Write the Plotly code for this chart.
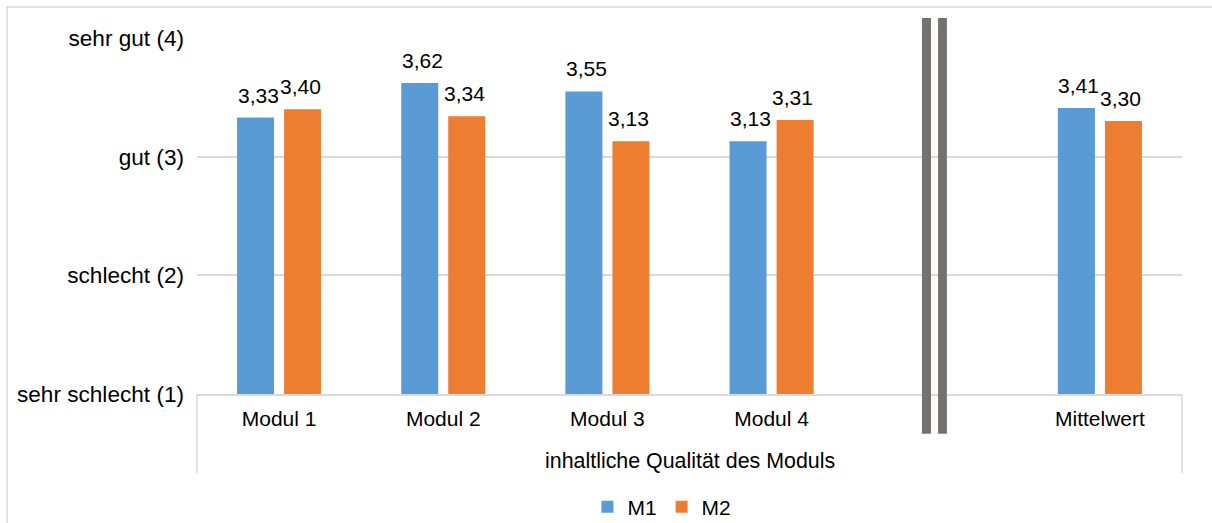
import plotly.graph_objects as go

# Ratings per module (1 = sehr schlecht ... 4 = sehr gut)
categories = ["Modul 1", "Modul 2", "Modul 3", "Modul 4", "", "Mittelwert"]
m1_values = [3.33, 3.62, 3.55, 3.13, None, 3.41]
m2_values = [3.40, 3.34, 3.13, 3.31, None, 3.30]
series_names = ["M1", "M2"]
y_tick_values = [1, 2, 3, 4]
y_tick_labels = ["sehr schlecht (1)", "schlecht (2)", "gut (3)", "sehr gut (4)"]
group_label = "inhaltliche Qualität des Moduls"

BLUE = "#5B9BD5"
ORANGE = "#ED7D31"
GRID = "#D9D9D9"
SEP = "#767171"
FONT = "Liberation Sans, Arial, sans-serif"
FS = 21

x_pos = list(range(len(categories)))

fig = go.Figure()
for name, vals, color in [(series_names[0], m1_values, BLUE), (series_names[1], m2_values, ORANGE)]:
    fig.add_trace(go.Bar(
        x=x_pos, y=vals, name=name, marker=dict(color=color, line=dict(width=0)),
        hoverinfo="skip",
    ))

# value labels above each bar
for shift, vals in [(-21, m1_values), (21, m2_values)]:
    for xi, v in zip(x_pos, vals):
        if v is None:
            continue
        fig.add_annotation(
            x=xi, y=v, xref="x", yref="y", text=f"{v:.2f}".replace(".", ","),
            showarrow=False, xshift=shift, yanchor="bottom", yshift=9,
            font=dict(family=FONT, size=21, color="#000000"),
        )

# second-level category label
fig.add_annotation(
    x=0.5, y=-0.188, xref="paper", yref="paper", text=group_label, showarrow=False,
    yanchor="middle", font=dict(family=FONT, size=21.4, color="#000000"),
)

shapes = [
    # outer chart border
    dict(type="rect", xref="paper", yref="paper", x0=-0.1929, x1=1.04, y0=-0.40, y1=1.087,
         line=dict(color=GRID, width=1.5), fillcolor="rgba(0,0,0,0)", layer="below"),
    # category axis end lines
    dict(type="line", xref="paper", yref="paper", x0=0, x1=0, y0=0, y1=-0.222,
         line=dict(color=GRID, width=1.5)),
    dict(type="line", xref="paper", yref="paper", x0=1, x1=1, y0=0, y1=-0.222,
         line=dict(color=GRID, width=1.5)),
    # axis break marker
    dict(type="rect", xref="x", yref="paper", x0=3.916, x1=3.971, y0=-0.112, y1=1.056,
         line=dict(width=0), fillcolor=SEP, layer="above"),
    dict(type="rect", xref="x", yref="paper", x0=4.014, x1=4.068, y0=-0.112, y1=1.056,
         line=dict(width=0), fillcolor=SEP, layer="above"),
]

fig.update_layout(
    width=1212, height=523,
    margin=dict(l=197, r=30, t=38, b=129, pad=0, autoexpand=False),
    paper_bgcolor="white", plot_bgcolor="white",
    barmode="group", bargap=0.427, bargroupgap=0.213,
    font=dict(family=FONT, size=FS, color="#000000"),
    showlegend=True,
    legend=dict(orientation="h", x=0.472, xanchor="center", yref="container", y=0.0306,
                yanchor="middle", font=dict(family=FONT, size=FS, color="#000000"),
                itemwidth=30, bgcolor="rgba(0,0,0,0)"),
    shapes=shapes,
    xaxis=dict(
        tickmode="array", tickvals=x_pos, ticktext=categories, range=[-0.5, len(categories) - 0.5],
        showgrid=False, zeroline=False, showline=True, linecolor=GRID, linewidth=1.5,
        ticks="", ticklabelstandoff=5, tickfont=dict(family=FONT, size=FS, color="#000000"),
        fixedrange=True, automargin=False,
    ),
    yaxis=dict(
        range=[1, 4], tickmode="array", tickvals=y_tick_values, ticktext=y_tick_labels,
        showgrid=True, gridcolor=GRID, gridwidth=1.5, zeroline=False, showline=False,
        ticks="", ticklabelstandoff=12, tickfont=dict(family=FONT, size=22.6, color="#000000"),
        fixedrange=True, automargin=False,
    ),
)

fig.write_html("out.html")
